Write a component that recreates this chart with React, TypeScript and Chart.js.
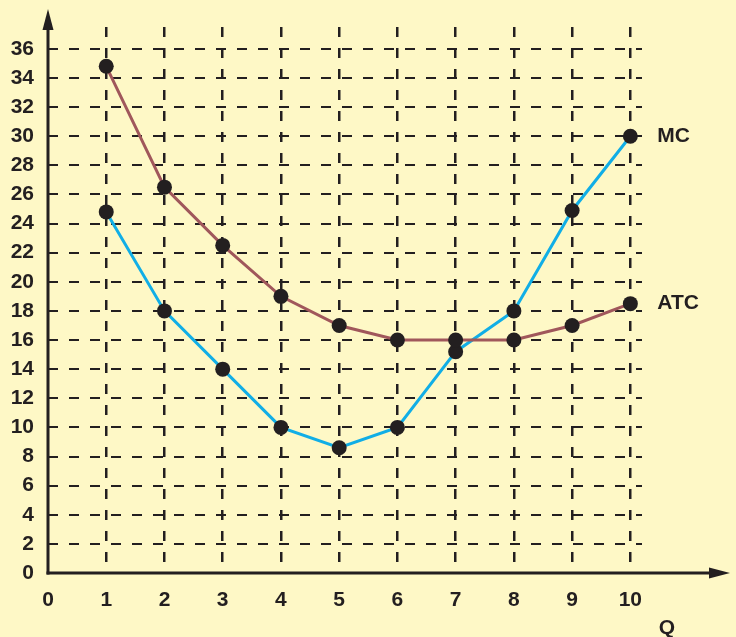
import React, { useEffect, useRef } from "react";
import { Chart, registerables } from "chart.js";
Chart.register(...registerables);

const quantities = [1, 2, 3, 4, 5, 6, 7, 8, 9, 10];
const atcValues = [34.8, 26.5, 22.5, 19, 17, 16, 16, 16, 17, 18.5];
const mcValues = [24.8, 18, 14, 10, 8.6, 10, 15.2, 18, 24.9, 30];
const xTickLabels = ["0", "1", "2", "3", "4", "5", "6", "7", "8", "9", "10"];
const yTickValues = [0, 2, 4, 6, 8, 10, 12, 14, 16, 18, 20, 22, 24, 26, 28, 30, 32, 34, 36];
const seriesNames = ["MC", "ATC"];
const xAxisTitle = "Q";

const INK = "#231F20";
const FONT = "'Liberation Sans', Arial, sans-serif";

const axesPlugin = {
  id: "econAxes",
  afterDraw(chart: any) {
    const ctx = chart.ctx;
    const x = chart.scales.x;
    const y = chart.scales.y;
    const x0 = x.getPixelForValue(0);
    const y0 = y.getPixelForValue(0);
    ctx.save();
    ctx.strokeStyle = INK;
    ctx.fillStyle = INK;
    ctx.lineWidth = 3;
    ctx.setLineDash([]);
    // y axis
    ctx.beginPath();
    ctx.moveTo(x0, y0 + 1.5);
    ctx.lineTo(x0, 22);
    ctx.stroke();
    ctx.beginPath();
    ctx.moveTo(x0, 9);
    ctx.lineTo(x0 - 5.5, 30);
    ctx.lineTo(x0 + 5.5, 30);
    ctx.closePath();
    ctx.fill();
    // x axis
    ctx.beginPath();
    ctx.moveTo(x0 - 1.5, y0);
    ctx.lineTo(715, y0);
    ctx.stroke();
    ctx.beginPath();
    ctx.moveTo(730, y0);
    ctx.lineTo(709, y0 - 5.5);
    ctx.lineTo(709, y0 + 5.5);
    ctx.closePath();
    ctx.fill();
    // labels
    ctx.font = `bold 21px ${FONT}`;
    ctx.textAlign = "left";
    ctx.textBaseline = "middle";
    const last = quantities.length - 1;
    const px = x.getPixelForValue(quantities[last]);
    ctx.fillText(seriesNames[0], px + 27, y.getPixelForValue(mcValues[last]));
    ctx.fillText(seriesNames[1], px + 27, y.getPixelForValue(atcValues[last]));
    ctx.textAlign = "center";
    ctx.fillText(xAxisTitle, 667, 628);
    ctx.restore();
  },
};

export default function App() {
  const ref = useRef<HTMLCanvasElement>(null);
  useEffect(() => {
    document.body.style.margin = "0";
    document.body.style.background = "#FEF8C6";
    const chart = new Chart(ref.current!, {
      type: "line",
      data: {
        datasets: [
          {
            label: seriesNames[1],
            data: quantities.map((q, i) => ({ x: q, y: atcValues[i] })),
            borderColor: "#A0575B",
            borderWidth: 3,
            pointRadius: 7.5,
            pointBackgroundColor: INK,
            pointBorderColor: INK,
            pointBorderWidth: 0,
          },
          {
            label: seriesNames[0],
            data: quantities.map((q, i) => ({ x: q, y: mcValues[i] })),
            borderColor: "#11AEE6",
            borderWidth: 3,
            pointRadius: 7.5,
            pointBackgroundColor: INK,
            pointBorderColor: INK,
            pointBorderWidth: 0,
          },
        ],
      },
      options: {
        animation: false,
        responsive: false,
        layout: { padding: { top: 27, right: 94, left: 0, bottom: 0 } },
        plugins: { legend: { display: false }, tooltip: { enabled: false } },
        scales: {
          x: {
            type: "linear",
            min: 0,
            max: 10.2,
            afterBuildTicks(scale: any) {
              scale.ticks = xTickLabels.map((_, i) => ({ value: i }));
            },
            afterFit(scale: any) {
              scale.height = 64;
            },
            ticks: {
              color: INK,
              font: { family: FONT, size: 21, weight: "bold" },
              padding: 15,
              callback: (v: any) => xTickLabels[v] ?? "",
              maxRotation: 0,
            },
            grid: {
              color: (c: any) => (c.tick && c.tick.value > 0 ? INK : "rgba(0,0,0,0)"),
              lineWidth: 2.5,
              drawTicks: false,
            },
            border: { display: false, dash: [10, 11] },
          },
          y: {
            type: "linear",
            min: 0,
            max: 37.5,
            afterBuildTicks(scale: any) {
              scale.ticks = yTickValues.map((v) => ({ value: v }));
            },
            afterFit(scale: any) {
              scale.width = 48;
            },
            ticks: {
              color: INK,
              font: { family: FONT, size: 21, weight: "bold" },
              padding: 14,
            },
            grid: {
              color: (c: any) => (c.tick && c.tick.value > 0 ? INK : "rgba(0,0,0,0)"),
              lineWidth: 2,
              drawTicks: false,
            },
            border: { display: false, dash: [10, 11] },
          },
        },
      },
      plugins: [axesPlugin],
    } as any);
    return () => chart.destroy();
  }, []);
  return (
    <div style={{ width: 736, height: 637, background: "#FEF8C6" }}>
      <canvas ref={ref} width={736} height={637} style={{ display: "block" }} />
    </div>
  );
}
